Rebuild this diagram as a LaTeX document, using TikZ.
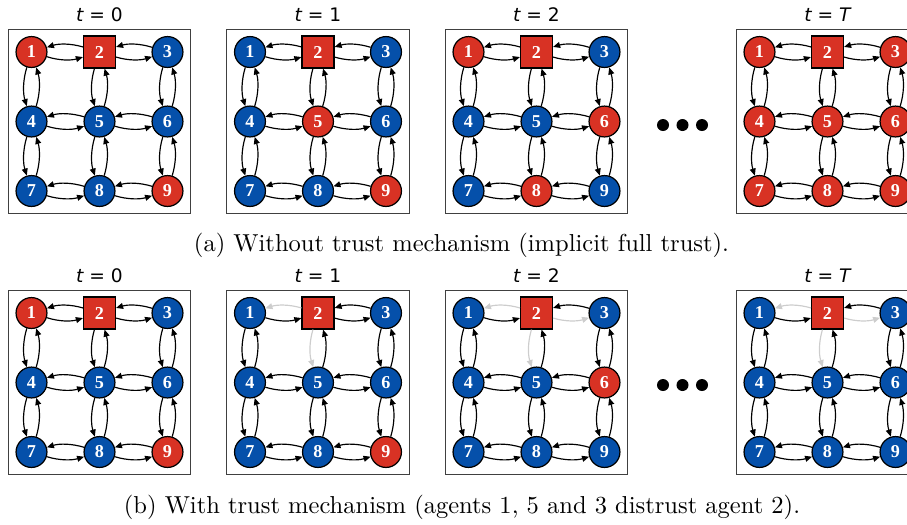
\documentclass[tikz,border=0pt]{standalone}
\usepackage{fontspec}
\usetikzlibrary{arrows.meta}
\newfontfamily\numfont{Liberation Serif}
\newfontfamily\ttlfont{DejaVu Sans}
\definecolor{agred}{RGB}{216,50,36}
\definecolor{agblue}{RGB}{5,80,170}
\definecolor{distrust}{RGB}{205,205,205}
\tikzset{
  x=0.408pt, y=-0.408pt,
  frame/.style={draw=black!75, line width=0.45pt, minimum width=74.6pt, minimum height=75.3pt, inner sep=0pt},
  agent/.style={circle, draw=black, line width=0.5pt, minimum size=12.6pt, inner sep=0pt, text=white, font=\numfont\bfseries\fontsize{7.4}{8}\selectfont},
  sq/.style={rectangle, fill=agred, minimum size=13pt},
  ttl/.style={font=\ttlfont\fontsize{7.6}{9}\selectfont, inner sep=0pt},
  edge/.style={line width=0.48pt, -{Triangle[length=2.9pt,width=2.4pt]}, bend right=17, looseness=0.9},
  dot/.style={circle, fill=black, minimum size=4.9pt, inner sep=0pt},
  captext/.style={font=\fontsize{10}{12}\selectfont, inner sep=0pt}
}
% #1 prefix, #2 x col1, #3 y row1, #4 title, #5 node/colour list, #6 2->1, #7 2->3, #8 2->5
\newcommand\gridpanel[8]{%
  \node[frame] (#1f) at ({#2+68},{#3+69.5}) {};
  \node[ttl] (#1t) at ({#2+68},{#3-37}) {#4};
  \node[agent,sq] (#12) at ({#2+68},{#3}) {2};
  \foreach \i/\c in {#5}{%
    \pgfmathtruncatemacro\cc{mod(\i-1,3)}%
    \pgfmathtruncatemacro\rr{(\i-1)/3}%
    \node[agent,fill=\c] (#1\i) at ({#2+68*\cc},{#3+69.5*\rr}) {\i};
  }
  \foreach \a/\b in {1/2,3/2,4/5,5/4,5/6,6/5,7/8,8/7,8/9,9/8,1/4,4/1,4/7,7/4,5/2,5/8,8/5,3/6,6/3,6/9,9/6}{%
    \draw[edge] (#1\a) to (#1\b);
  }
  \draw[edge,color=#6] (#12) to (#11);
  \draw[edge,color=#7] (#12) to (#13);
  \draw[edge,color=#8] (#12) to (#15);
}
\begin{document}
\begin{tikzpicture}
\clip (0,0) rectangle (907,524);
% (a) without trust
\gridpanel{A}{31.5}{52}{{\itshape t} = 0}{1/agred,3/agblue,4/agblue,5/agblue,6/agblue,7/agblue,8/agblue,9/agred}{black}{black}{black}
\gridpanel{B}{250}{52}{{\itshape t} = 1}{1/agblue,3/agblue,4/agblue,5/agred,6/agblue,7/agblue,8/agblue,9/agred}{black}{black}{black}
\gridpanel{C}{468.5}{52}{{\itshape t} = 2}{1/agred,3/agblue,4/agblue,5/agblue,6/agred,7/agblue,8/agred,9/agblue}{black}{black}{black}
\gridpanel{D}{759.5}{52}{{\itshape t} = {\itshape T}}{1/agred,3/agred,4/agred,5/agred,6/agred,7/agred,8/agred,9/agred}{black}{black}{black}
\node[dot] (da1) at (663,125) {};
\node[dot] (da2) at (682.5,125) {};
\node[dot] (da3) at (702,125) {};
\node[captext] (capa) at (461.5,245) {(a) Without trust mechanism (implicit full trust).};
% (b) with trust
\gridpanel{E}{31.5}{313}{{\itshape t} = 0}{1/agred,3/agblue,4/agblue,5/agblue,6/agblue,7/agblue,8/agblue,9/agred}{black}{black}{black}
\gridpanel{F}{250}{313}{{\itshape t} = 1}{1/agblue,3/agblue,4/agblue,5/agblue,6/agblue,7/agblue,8/agblue,9/agred}{distrust}{black}{distrust}
\gridpanel{G}{468.5}{313}{{\itshape t} = 2}{1/agblue,3/agblue,4/agblue,5/agblue,6/agred,7/agblue,8/agblue,9/agblue}{distrust}{distrust}{distrust}
\gridpanel{H}{759.5}{313}{{\itshape t} = {\itshape T}}{1/agblue,3/agblue,4/agblue,5/agblue,6/agblue,7/agblue,8/agblue,9/agblue}{distrust}{distrust}{distrust}
\node[dot] (db1) at (663,385) {};
\node[dot] (db2) at (682.5,385) {};
\node[dot] (db3) at (702,385) {};
\node[captext] (capb) at (462,507) {(b) With trust mechanism (agents 1, 5 and 3 distrust agent 2).};
\end{tikzpicture}
\end{document}
